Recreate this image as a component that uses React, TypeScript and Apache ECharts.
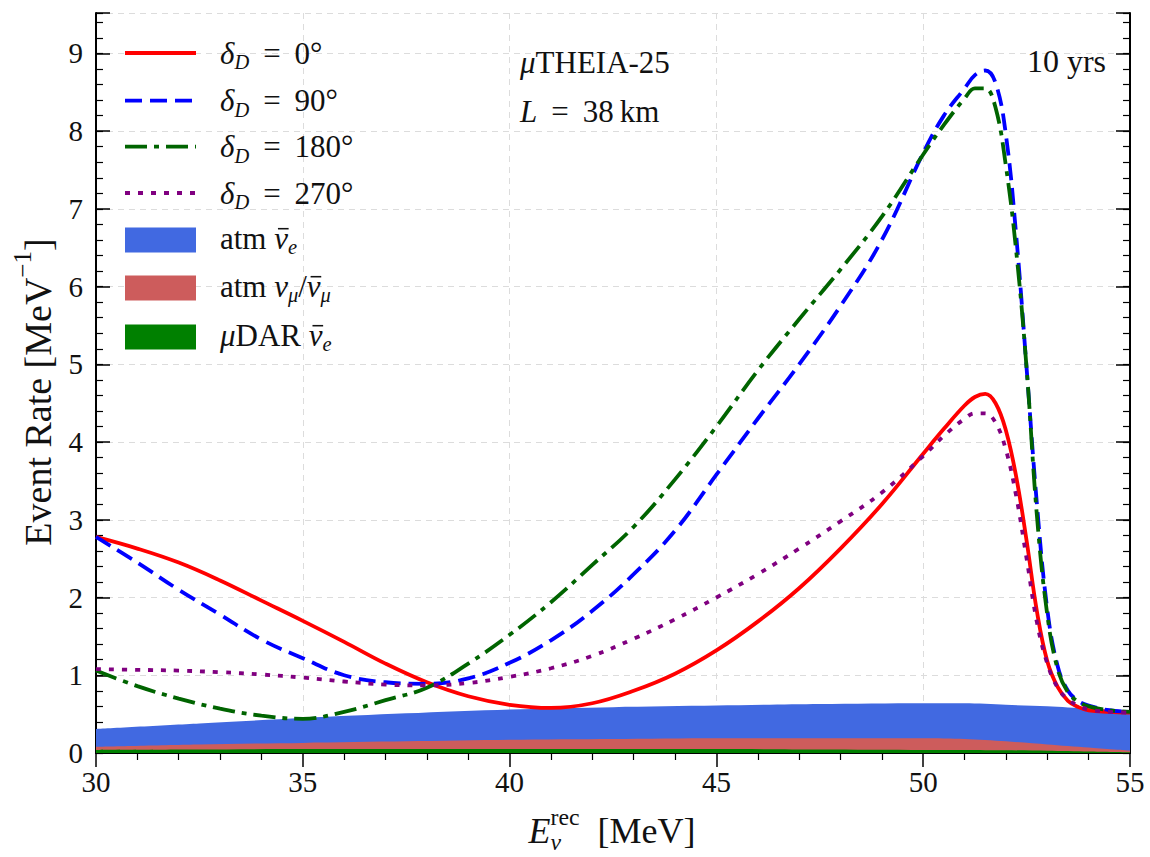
import React, { useEffect, useRef } from "react";
import * as echarts from "echarts";

// ---------------- data ----------------
const energy = [
  30, 31, 32, 33, 34, 35, 36, 37, 38, 39, 40, 41, 42, 43, 44, 45, 46, 47, 48, 49, 50,
  50.5, 51, 51.25, 51.5, 51.75, 52, 52.25, 52.5, 52.75, 53, 53.25, 53.5, 53.75, 54, 54.5, 55,
];
const delta0 = [
  2.78, 2.63, 2.45, 2.22, 1.96, 1.7, 1.43, 1.15, 0.91, 0.73, 0.62, 0.58, 0.64, 0.8, 1.02, 1.32, 1.69, 2.12, 2.63, 3.2, 3.85,
  4.17, 4.47, 4.58, 4.62, 4.5, 4.15, 3.55, 2.73, 1.82, 1.18, 0.85, 0.67, 0.59, 0.55, 0.53, 0.52,
];
const delta90 = [
  2.78, 2.45, 2.1, 1.78, 1.46, 1.22, 1.0, 0.91, 0.89, 0.96, 1.16, 1.45, 1.83, 2.3, 2.86, 3.58, 4.3, 5.0, 5.75, 6.6, 7.72,
  8.2, 8.55, 8.72, 8.78, 8.62, 7.95, 6.65, 4.95, 3.2, 1.85, 1.12, 0.8, 0.67, 0.61, 0.55, 0.53,
];
const delta180 = [
  1.06, 0.86, 0.7, 0.57, 0.48, 0.44, 0.53, 0.68, 0.84, 1.15, 1.52, 1.94, 2.42, 2.91, 3.52, 4.2, 4.92, 5.58, 6.22, 6.9, 7.7,
  8.08, 8.42, 8.55, 8.55, 8.3, 7.55, 6.45, 4.95, 3.05, 1.78, 1.08, 0.78, 0.66, 0.6, 0.55, 0.53,
];
const delta270 = [
  1.08, 1.07, 1.06, 1.04, 1.01, 0.97, 0.92, 0.88, 0.87, 0.9, 0.98, 1.09, 1.25, 1.47, 1.72, 2.0, 2.3, 2.63, 2.98, 3.35, 3.82,
  4.08, 4.3, 4.37, 4.37, 4.25, 3.9, 3.3, 2.5, 1.68, 1.15, 0.84, 0.69, 0.61, 0.56, 0.53, 0.52,
];

const bandEnergy = [30, 32.5, 35, 37.5, 40, 42.5, 45, 47.5, 50, 51, 52, 53, 54, 55];
const atmNuebar = [0.31, 0.38, 0.45, 0.51, 0.56, 0.59, 0.61, 0.63, 0.64, 0.64, 0.62, 0.6, 0.57, 0.55];
const atmNumu = [0.08, 0.11, 0.13, 0.15, 0.17, 0.18, 0.19, 0.19, 0.19, 0.18, 0.15, 0.11, 0.07, 0.03];
const muDAR = [0.04, 0.045, 0.05, 0.05, 0.05, 0.05, 0.05, 0.045, 0.04, 0.04, 0.035, 0.03, 0.02, 0.01];

const xTicks = [30, 35, 40, 45, 50, 55];
const yTicks = [0, 1, 2, 3, 4, 5, 6, 7, 8, 9];

// ---------------- style ----------------
const FONT = '"Liberation Serif", "Times New Roman", serif';
const X_MIN = 30;
const X_MAX = 55;
const Y_MAX = 9.52;
const GRID = { left: 96, top: 13, right: 20, bottom: 104 };
const EQ = " \u2009=\u2009 ";

let measureCtx: CanvasRenderingContext2D | null = null;
function measure(t: string, size: number, italic: boolean) {
  if (!measureCtx) measureCtx = document.createElement("canvas").getContext("2d");
  if (!measureCtx) return t.length * size * 0.5;
  measureCtx.font = `${italic ? "italic " : ""}${size}px ${FONT}`;
  return measureCtx.measureText(t).width;
}

type Seg = { t: string; it?: boolean; sub?: boolean; sup?: boolean; bar?: boolean; back?: boolean };

const SCRIPT = 0.66;

function layoutSegs(segs: Seg[], S: number) {
  let x = 0;
  let prevStart = 0;
  const placed: { s: Seg; start: number; w: number; size: number }[] = [];
  for (const s of segs) {
    const size = s.sub || s.sup ? S * SCRIPT : S;
    const w = measure(s.t, size, !!s.it);
    const start = s.back ? prevStart : x;
    placed.push({ s, start, w, size });
    prevStart = start;
    x = Math.max(x, start + w);
  }
  return { placed, total: x };
}

function mathText(x0: number, y0: number, segs: Seg[], S: number, align: "left" | "center" | "right" = "left") {
  const { placed, total } = layoutSegs(segs, S);
  const base = align === "left" ? x0 : align === "center" ? x0 - total / 2 : x0 - total;
  const out: any[] = [];
  for (const p of placed) {
    const s = p.s;
    const dy = s.sub ? S * 0.3 : s.sup ? -S * 0.4 : 0;
    const start = base + p.start;
    out.push({
      type: "text",
      x: start,
      y: y0 + dy,
      z: 100,
      style: {
        text: s.t,
        fontFamily: FONT,
        fontSize: p.size,
        fontStyle: s.it ? "italic" : "normal",
        fill: "#111",
        align: "left",
        verticalAlign: "middle",
      },
    });
    if (s.bar) {
      const by = y0 + dy - p.size * 0.3;
      out.push({
        type: "line",
        z: 100,
        shape: { x1: start + p.size * 0.12, y1: by, x2: start + p.w + p.size * 0.02, y2: by },
        style: { stroke: "#111", lineWidth: Math.max(1.2, p.size * 0.05) },
      });
    }
  }
  return out;
}

const pairs = (xs: number[], ys: number[]) => xs.map((v, i) => [v, ys[i]]);

export default function App() {
  const ref = useRef<HTMLDivElement>(null);

  useEffect(() => {
    if (!ref.current) return;
    const chart = echarts.init(ref.current, undefined, { renderer: "svg" });

    const curves = [
      { name: "δD = 0°", data: delta0, color: "#ff0000", dash: "solid" as any, label: "0°" },
      { name: "δD = 90°", data: delta90, color: "#0000ff", dash: [17, 8], label: "90°" },
      { name: "δD = 180°", data: delta180, color: "#006400", dash: [22, 7, 5, 7], label: "180°" },
      { name: "δD = 270°", data: delta270, color: "#800080", dash: [5, 8], label: "270°" },
    ];
    const bands = [
      { name: "atm ν̄e", data: atmNuebar, color: "#4169e1" },
      { name: "atm νμ/ν̄μ", data: atmNumu, color: "#cd5c5c" },
      { name: "μDAR ν̄e", data: muDAR, color: "#008000" },
    ];

    const axisLine = { show: true, lineStyle: { color: "#000", width: 2 } };
    const splitLine = { show: true, lineStyle: { color: "#dcdcdc", width: 1, type: [6, 5] as any } };

    const xBase = {
      type: "value" as const,
      min: X_MIN,
      max: X_MAX,
      interval: 5,
      gridIndex: 0,
      axisLine,
      axisTick: { show: true, inside: true, length: 14, lineStyle: { color: "#000", width: 1.5 } },
      minorTick: { show: true, splitNumber: 5, length: 7, lineStyle: { color: "#000", width: 1.2 } },
    };
    const yMajor = {
      type: "value" as const,
      min: 0,
      max: Y_MAX,
      interval: 1,
      gridIndex: 0,
      axisLine,
      axisTick: { show: true, inside: true, length: 14, lineStyle: { color: "#000", width: 1.5 } },
    };
    const yMinor = {
      type: "value" as const,
      min: 0,
      max: Y_MAX,
      interval: 0.2,
      gridIndex: 0,
      axisLine: { show: false },
      axisLabel: { show: false },
      splitLine: { show: false },
      axisTick: { show: true, inside: true, length: 7, lineStyle: { color: "#000", width: 1.2 } },
    };

    const legendRows = [53, 100.7, 146.7, 193, 240, 288, 337];
    const LS = 31;
    const graphics: any[] = [];
    curves.forEach((c, i) => {
      const y = legendRows[i];
      graphics.push({
        type: "line",
        z: 100,
        shape: { x1: 125, y1: y, x2: 196, y2: y },
        style: { stroke: c.color, lineWidth: 3.8, lineDash: c.dash === "solid" ? null : c.dash },
      });
      graphics.push(
        ...mathText(220, y, [{ t: "δ", it: true }, { t: "D", it: true, sub: true }, { t: EQ + c.label }], LS)
      );
    });
    bands.forEach((b, i) => {
      const y = legendRows[4 + i];
      graphics.push({
        type: "rect",
        z: 100,
        shape: { x: 125, y: y - 12.5, width: 71, height: 25 },
        style: { fill: b.color },
      });
    });
    graphics.push(
      ...mathText(220, legendRows[4] - 2, [{ t: "atm " }, { t: "ν", it: true, bar: true }, { t: "e", it: true, sub: true }], LS)
    );
    graphics.push(
      ...mathText(
        220,
        legendRows[5] - 2,
        [
          { t: "atm " },
          { t: "ν", it: true },
          { t: "μ", it: true, sub: true },
          { t: "/" },
          { t: "ν", it: true, bar: true },
          { t: "μ", it: true, sub: true },
        ],
        LS
      )
    );
    graphics.push(
      ...mathText(
        220,
        legendRows[6] - 2,
        [{ t: "μ", it: true }, { t: "DAR " }, { t: "ν", it: true, bar: true }, { t: "e", it: true, sub: true }],
        LS
      )
    );

    // annotations
    graphics.push(...mathText(520, 62, [{ t: "μ", it: true }, { t: "THEIA-25" }], LS));
    graphics.push(...mathText(520, 111, [{ t: "L", it: true }, { t: EQ + "38\u2009km" }], LS));
    graphics.push(...mathText(1106, 61, [{ t: "10 yrs" }], 32, "right"));

    // axis titles
    graphics.push(
      ...mathText(
        612,
        831,
        [{ t: "E", it: true }, { t: "ν", it: true, sub: true }, { t: "rec", sup: true, back: true }, { t: "  [MeV]" }],
        36,
        "center"
      )
    );
    graphics.push({
      type: "group",
      x: 38,
      y: 392,
      z: 100,
      rotation: Math.PI / 2,
      children: mathText(0, 0, [{ t: "Event Rate [MeV" }, { t: "−1", sup: true }, { t: "]" }], 38, "center"),
    });

    const option: any = {
      animation: false,
      backgroundColor: "#ffffff",
      grid: { ...GRID, containLabel: false },
      xAxis: [
        {
          ...xBase,
          position: "bottom",
          splitLine,
          axisLabel: {
            show: true,
            margin: 14,
            fontFamily: FONT,
            fontSize: 29,
            color: "#111",
            formatter: (v: number) => (xTicks.includes(v) ? String(v) : ""),
          },
        },
        { ...xBase, position: "top", splitLine: { show: false }, axisLabel: { show: false } },
      ],
      yAxis: [
        {
          ...yMajor,
          position: "left",
          splitLine,
          axisLabel: {
            show: true,
            margin: 13,
            fontFamily: FONT,
            fontSize: 29,
            color: "#111",
            formatter: (v: number) => (yTicks.includes(v) ? String(v) : ""),
          },
        },
        { ...yMajor, position: "right", splitLine: { show: false }, axisLabel: { show: false } },
        { ...yMinor, position: "left" },
        { ...yMinor, position: "right" },
      ],
      series: [
        ...bands.map((b, i) => ({
          type: "line",
          name: b.name,
          xAxisIndex: 0,
          yAxisIndex: 0,
          data: pairs(bandEnergy, b.data),
          showSymbol: false,
          symbol: "none",
          smooth: 0.3,
          lineStyle: { width: 0 },
          areaStyle: { color: b.color, opacity: 1, origin: 0 },
          z: 2 + i,
          silent: true,
        })),
        ...curves.map((c, i) => ({
          type: "line",
          name: c.name,
          xAxisIndex: 0,
          yAxisIndex: 0,
          data: pairs(energy, c.data),
          showSymbol: false,
          symbol: "none",
          smooth: 0.4,
          lineStyle: { color: c.color, width: 3.8, type: c.dash, cap: "butt" },
          z: 10 + i,
          silent: true,
        })),
      ],
      graphic: graphics,
    };

    chart.setOption(option);
    return () => chart.dispose();
  }, []);

  return (
    <div
      ref={ref}
      style={{ position: "absolute", left: 0, top: 0, width: 1150, height: 857, background: "#fff" }}
    />
  );
}
